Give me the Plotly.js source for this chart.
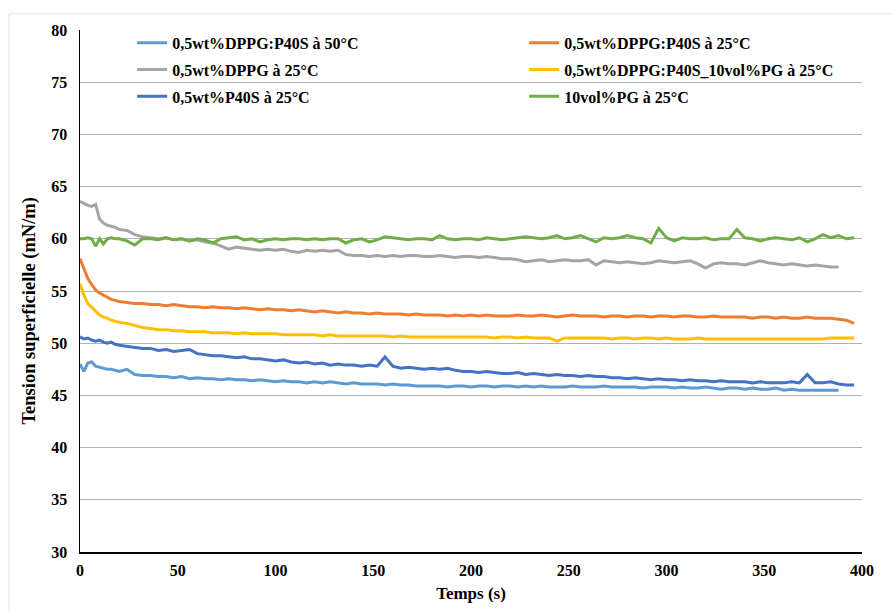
<!DOCTYPE html>
<html>
<head>
<meta charset="utf-8">
<script src="https://cdn.plot.ly/plotly-3.0.1.min.js"></script>
<style>html,body{margin:0;padding:0;background:#fff;}#chart{width:893px;height:612px;}</style>
</head>
<body>
<div id="chart"></div>
<script>
// Time (s)
const temps = [
  0, 2, 4, 6, 8, 10, 12, 14, 16, 18,
  20, 24, 28, 32, 36, 40, 44, 48, 52, 56,
  60, 64, 68, 72, 76, 80, 84, 88, 92, 96,
  100, 104, 108, 112, 116, 120, 124, 128, 132, 136,
  140, 144, 148, 152, 156, 160, 164, 168, 172, 176,
  180, 184, 188, 192, 196, 200, 204, 208, 212, 216,
  220, 224, 228, 232, 236, 240, 244, 248, 252, 256,
  260, 264, 268, 272, 276, 280, 284, 288, 292, 296,
  300, 304, 308, 312, 316, 320, 324, 328, 332, 336,
  340, 344, 348, 352, 356, 360, 364, 368, 372, 376,
  380, 384, 388, 392, 396
];

const seriesNames = [
  "0,5wt%DPPG:P40S à 50°C",
  "0,5wt%DPPG:P40S à 25°C",
  "0,5wt%DPPG à 25°C",
  "0,5wt%DPPG:P40S_10vol%PG à 25°C",
  "0,5wt%P40S à 25°C",
  "10vol%PG à 25°C"
];

const dppgP40S_50C = [
  48.0, 47.3, 48.1, 48.2, 47.8, 47.7, 47.6, 47.5, 47.5, 47.4,
  47.3, 47.5, 47.0, 46.9, 46.9, 46.8, 46.8, 46.7, 46.8, 46.6,
  46.7, 46.6, 46.6, 46.5, 46.6, 46.5, 46.5, 46.4, 46.5, 46.4,
  46.3, 46.4, 46.3, 46.3, 46.2, 46.3, 46.2, 46.3, 46.2, 46.1,
  46.2, 46.1, 46.1, 46.1, 46.0, 46.1, 46.0, 46.0, 45.9, 45.9,
  45.9, 45.9, 45.8, 45.9, 45.9, 45.8, 45.9, 45.9, 45.8, 45.9,
  45.9, 45.8, 45.9, 45.8, 45.9, 45.8, 45.8, 45.8, 45.9, 45.8,
  45.8, 45.8, 45.9, 45.8, 45.8, 45.8, 45.8, 45.7, 45.8, 45.8,
  45.8, 45.7, 45.8, 45.7, 45.7, 45.8, 45.7, 45.6, 45.7, 45.7,
  45.6, 45.7, 45.6, 45.6, 45.7, 45.5, 45.6, 45.5, 45.5, 45.5,
  45.5, 45.5, 45.5, null, null
];

const dppgP40S_25C = [
  58.1, 57.2, 56.2, 55.6, 55.1, 54.8, 54.6, 54.4, 54.2, 54.1,
  54.0, 53.9, 53.8, 53.8, 53.7, 53.7, 53.6, 53.7, 53.6, 53.5,
  53.5, 53.4, 53.5, 53.4, 53.4, 53.3, 53.4, 53.3, 53.2, 53.3,
  53.2, 53.2, 53.1, 53.2, 53.1, 53.0, 53.1, 53.0, 52.9, 53.0,
  52.9, 52.9, 52.8, 52.9, 52.8, 52.8, 52.8, 52.7, 52.8, 52.7,
  52.7, 52.7, 52.6, 52.7, 52.6, 52.7, 52.6, 52.7, 52.6, 52.6,
  52.6, 52.7, 52.6, 52.6, 52.7, 52.6, 52.5, 52.6, 52.7, 52.6,
  52.6, 52.6, 52.5, 52.6, 52.6, 52.5, 52.6, 52.6, 52.5, 52.6,
  52.6, 52.5, 52.6, 52.6, 52.5, 52.5, 52.6, 52.5, 52.5, 52.5,
  52.5, 52.4, 52.5, 52.5, 52.4, 52.5, 52.4, 52.4, 52.5, 52.4,
  52.4, 52.4, 52.3, 52.2, 51.9
];

const dppg_25C = [
  63.6, 63.4, 63.2, 63.1, 63.3, 61.9, 61.5, 61.3, 61.2, 61.1,
  60.9, 60.8, 60.4, 60.2, 60.1, 60.0, 60.1, 59.9, 60.0, 59.8,
  59.9, 59.7, 59.6, 59.3, 59.0, 59.2, 59.1, 59.0, 58.9, 59.0,
  58.9, 59.0, 58.8, 58.7, 58.9, 58.8, 58.9, 58.8, 58.9, 58.5,
  58.4, 58.4, 58.3, 58.4, 58.3, 58.4, 58.3, 58.4, 58.4, 58.3,
  58.3, 58.4, 58.3, 58.2, 58.3, 58.3, 58.2, 58.3, 58.2, 58.1,
  58.1, 58.0, 57.8, 57.9, 58.0, 57.8, 57.9, 58.0, 57.9, 57.9,
  58.0, 57.5, 57.9, 57.8, 57.7, 57.8, 57.7, 57.6, 57.7, 57.9,
  57.8, 57.7, 57.8, 57.9, 57.6, 57.2, 57.6, 57.7, 57.6, 57.6,
  57.5, 57.7, 57.9, 57.7, 57.6, 57.5, 57.6, 57.5, 57.4, 57.5,
  57.4, 57.3, 57.3, null, null
];

const dppgP40S_PG_25C = [
  55.7, 54.6, 53.8, 53.4, 53.0, 52.7, 52.5, 52.4, 52.2, 52.1,
  52.0, 51.9, 51.7, 51.5, 51.4, 51.3, 51.3, 51.2, 51.2, 51.1,
  51.1, 51.1, 51.0, 51.0, 51.0, 50.9, 51.0, 50.9, 50.9, 50.9,
  50.9, 50.8, 50.8, 50.8, 50.8, 50.8, 50.7, 50.8, 50.7, 50.7,
  50.7, 50.7, 50.7, 50.7, 50.7, 50.6, 50.7, 50.6, 50.6, 50.6,
  50.6, 50.6, 50.6, 50.6, 50.6, 50.6, 50.6, 50.6, 50.5, 50.6,
  50.6, 50.5, 50.6, 50.5, 50.5, 50.5, 50.2, 50.5, 50.5, 50.5,
  50.5, 50.5, 50.5, 50.4, 50.5, 50.5, 50.4, 50.5, 50.5, 50.4,
  50.5, 50.4, 50.4, 50.4, 50.5, 50.4, 50.4, 50.4, 50.4, 50.4,
  50.4, 50.4, 50.4, 50.4, 50.4, 50.4, 50.4, 50.4, 50.4, 50.4,
  50.4, 50.5, 50.5, 50.5, 50.5
];

const p40S_25C = [
  50.6, 50.4, 50.5, 50.3, 50.2, 50.3, 50.1, 50.0, 50.1, 49.9,
  49.8, 49.7, 49.6, 49.5, 49.5, 49.3, 49.4, 49.2, 49.3, 49.4,
  49.0, 48.9, 48.8, 48.8, 48.7, 48.6, 48.7, 48.5, 48.5, 48.4,
  48.3, 48.4, 48.2, 48.1, 48.2, 48.0, 48.1, 47.9, 48.0, 47.9,
  47.9, 47.8, 47.9, 47.8, 48.7, 47.8, 47.6, 47.7, 47.6, 47.5,
  47.6, 47.5, 47.6, 47.4, 47.3, 47.3, 47.2, 47.3, 47.2, 47.1,
  47.1, 47.2, 47.0, 47.1, 47.0, 46.9, 47.0, 46.9, 46.9, 46.8,
  46.9, 46.8, 46.8, 46.7, 46.7, 46.6, 46.7, 46.6, 46.5, 46.6,
  46.5, 46.5, 46.4, 46.5, 46.4, 46.4, 46.3, 46.4, 46.3, 46.3,
  46.3, 46.2, 46.3, 46.2, 46.2, 46.2, 46.3, 46.2, 47.0, 46.2,
  46.2, 46.3, 46.1, 46.0, 46.0
];

const pg_25C = [
  60.0, 60.0, 60.1, 60.0, 59.3, 60.0, 59.5, 60.0, 60.1, 60.0,
  60.0, 59.8, 59.4, 60.0, 60.0, 59.9, 60.1, 59.9, 60.0, 59.8,
  60.0, 59.9, 59.6, 60.0, 60.1, 60.2, 59.9, 60.0, 59.7, 59.9,
  60.0, 59.9, 60.0, 60.0, 59.9, 60.0, 59.9, 60.0, 60.0, 59.6,
  59.9, 60.0, 59.7, 59.9, 60.2, 60.1, 60.0, 59.9, 60.0, 60.0,
  59.9, 60.3, 60.0, 59.9, 60.0, 60.0, 59.9, 60.1, 60.0, 59.9,
  60.0, 60.1, 60.2, 60.1, 60.0, 60.1, 60.3, 60.0, 60.1, 60.3,
  60.0, 59.7, 60.1, 60.0, 60.1, 60.3, 60.1, 60.0, 59.6, 61.0,
  60.1, 59.8, 60.1, 60.0, 60.0, 60.1, 59.9, 60.0, 60.0, 60.9,
  60.1, 60.0, 59.8, 60.0, 60.1, 60.0, 59.9, 60.1, 59.7, 60.0,
  60.4, 60.1, 60.3, 60.0, 60.1
];

const xTicks = [0, 50, 100, 150, 200, 250, 300, 350, 400];
const yTicks = [30, 35, 40, 45, 50, 55, 60, 65, 70, 75, 80];
const xTitle = "Temps (s)";
const yTitle = "Tension superficielle (mN/m)";

const colors = ["#5B9BD5", "#ED7D31", "#A5A5A5", "#FFC000", "#4472C4", "#70AD47"];
const values = [dppgP40S_50C, dppgP40S_25C, dppg_25C, dppgP40S_PG_25C, p40S_25C, pg_25C];
// left legend column: even indices, right column: odd indices
const legendOf = ["legend", "legend2", "legend", "legend2", "legend", "legend2"];

const font = "'Liberation Serif', 'Times New Roman', serif";

const traces = values.map((v, i) => ({
  type: "scatter",
  mode: "lines",
  x: temps,
  y: v,
  name: seriesNames[i],
  legend: legendOf[i],
  legendgroup: "g" + i,
  line: {color: colors[i], width: 3},
  connectgaps: false
}));

const legendFont = {family: font, size: 16, color: "#000", weight: "bold"};
const legendBase = {
  orientation: "v",
  xanchor: "left", yanchor: "top",
  bgcolor: "rgba(255,255,255,0)",
  font: legendFont,
  itemwidth: 30,
  tracegroupgap: 3,
  traceorder: "grouped"
};

const layout = {
  width: 893,
  height: 612,
  margin: {l: 80, r: 31, t: 30, b: 60},
  paper_bgcolor: "#ffffff",
  plot_bgcolor: "#ffffff",
  font: {family: font, size: 16, color: "#000"},
  showlegend: true,
  legend: Object.assign({}, legendBase, {x: 0.0667, y: 1.008}),
  legend2: Object.assign({}, legendBase, {x: 0.568, y: 1.008}),
  xaxis: {
    range: [0, 400],
    tickvals: xTicks,
    ticktext: xTicks.map(String),
    showgrid: false,
    zeroline: false,
    showline: true,
    linecolor: "#000",
    linewidth: 1.5,
    ticks: "",
    ticklabelstandoff: 3,
    tickfont: {family: font, size: 16, color: "#000", weight: "bold"},
    title: {text: xTitle, font: {family: font, size: 17, color: "#000", weight: "bold"}, standoff: 9}
  },
  yaxis: {
    range: [30, 80],
    tickvals: yTicks,
    ticktext: yTicks.map(String),
    showgrid: true,
    gridcolor: "#b3b3b3",
    gridwidth: 1,
    zeroline: false,
    showline: true,
    linecolor: "#000",
    linewidth: 1.5,
    ticks: "",
    ticklabelstandoff: 8,
    tickfont: {family: font, size: 16, color: "#000", weight: "bold"}
  },
  annotations: [
    {
      text: yTitle, textangle: -90, showarrow: false,
      xref: "paper", yref: "paper", x: -0.0645, y: 0.4617,
      xanchor: "center", yanchor: "middle",
      font: {family: font, size: 18.5, color: "#000", weight: "bold"}
    }
  ],
  shapes: [
    {type: "line", xref: "paper", yref: "paper", x0: -0.091, x1: 1.06, y0: 1.031, y1: 1.031, line: {color: "#e3e3e3", width: 1}},
    {type: "line", xref: "paper", yref: "paper", x0: -0.091, x1: -0.091, y0: 1.031, y1: -0.12, line: {color: "#e3e3e3", width: 1}}
  ]
};

Plotly.newPlot("chart", traces, layout, {displayModeBar: false, staticPlot: true});
</script>
</body>
</html>
